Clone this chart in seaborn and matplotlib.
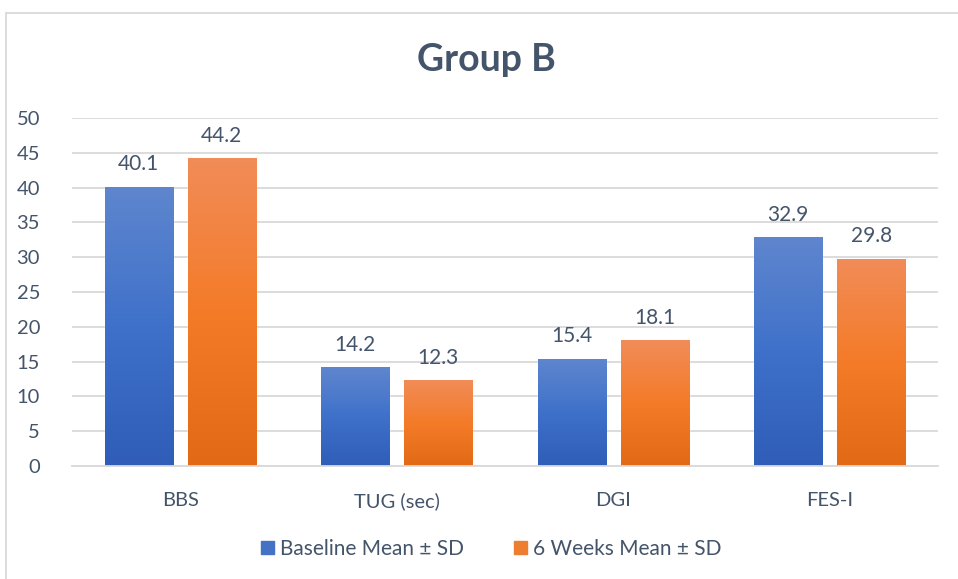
import numpy as np
import pandas as pd
import matplotlib
matplotlib.use("Agg")
import matplotlib.pyplot as plt
import seaborn as sns
from matplotlib.colors import LinearSegmentedColormap
from matplotlib.patches import Rectangle

categories = ["BBS", "TUG (sec)", "DGI", "FES-I"]
baseline = [40.1, 14.2, 15.4, 32.9]
six_weeks = [44.2, 12.3, 18.1, 29.8]
series_names = ["Baseline Mean \u00b1 SD", "6 Weeks Mean \u00b1 SD"]

df = pd.DataFrame({
    "measure": categories * 2,
    "value": baseline + six_weeks,
    "series": [series_names[0]] * len(categories) + [series_names[1]] * len(categories),
})

sns.set_theme(style="white")
plt.rcParams["font.family"] = ["Lato", "DejaVu Sans"]

text_color = "#44546A"
grid_color = "#D9D9D9"
solid = {series_names[0]: "#4472C4", series_names[1]: "#ED7D31"}
gradients = {
    series_names[0]: ["#5F86CE", "#3F71CA", "#2F5DB7"],
    series_names[1]: ["#F18C58", "#F47B28", "#E26A16"],
}

fig = plt.figure(figsize=(9.58, 5.79), dpi=100)
ax = fig.add_axes([0.0752, 0.1952, 0.9038, 0.6010])

sns.barplot(data=df, x="measure", y="value", hue="series", palette=solid,
            width=0.767, gap=0.18, ax=ax, legend=False, errorbar=None)

ax.set_ylim(0, 50)
ax.set_yticks(np.arange(0, 51, 5))
ax.set_xlim(-0.5, len(categories) - 0.5)
ax.yaxis.grid(True, color=grid_color, linewidth=1.3)
ax.set_axisbelow(True)
for s in ["top", "right", "left"]:
    ax.spines[s].set_visible(False)
ax.spines["bottom"].set_color(grid_color)
ax.spines["bottom"].set_linewidth(1.3)
ax.tick_params(axis="both", length=0, labelsize=14.5, colors=text_color)
ax.tick_params(axis="y", pad=23)
ax.tick_params(axis="x", pad=19)
ax.set_xlabel("")
ax.set_ylabel("")

# vertical gradient fill for each bar, clipped to the bar shape
for container, name in zip(ax.containers, series_names):
    cmap = LinearSegmentedColormap.from_list(name, gradients[name][::-1])
    grad = np.linspace(0, 1, 256).reshape(-1, 1)
    for bar in container.patches:
        x0, y0 = bar.get_x(), bar.get_y()
        w, h = bar.get_width(), bar.get_height()
        im = ax.imshow(grad, cmap=cmap, origin="lower", aspect="auto",
                       extent=[x0, x0 + w, y0, y0 + h], zorder=bar.get_zorder() + 0.1)
        im.set_clip_path(bar)
    ax.bar_label(container, fmt="%.1f", padding=9, fontsize=15, color=text_color)

ax.set_xlim(-0.5, len(categories) - 0.5)
ax.set_ylim(0, 50)

fig.suptitle("Group B", x=0.508, y=0.925, fontsize=27, fontweight="bold", color=text_color)

handles = [Rectangle((0, 0), 1, 1, color=solid[n]) for n in series_names]
fig.legend(handles, series_names, loc="center", bbox_to_anchor=(0.513, 0.052), ncol=2,
           frameon=False, fontsize=15, labelcolor=text_color, handlelength=0.6,
           handleheight=0.6, handletextpad=0.3, columnspacing=2.4)

# chart area border
fig.patches.append(Rectangle((6 / 958, -0.05), 1.2, 1 - 13 / 579 + 0.05,
                             transform=fig.transFigure, fill=False,
                             edgecolor=grid_color, linewidth=1.3))

fig.savefig("out.png", dpi=100)
